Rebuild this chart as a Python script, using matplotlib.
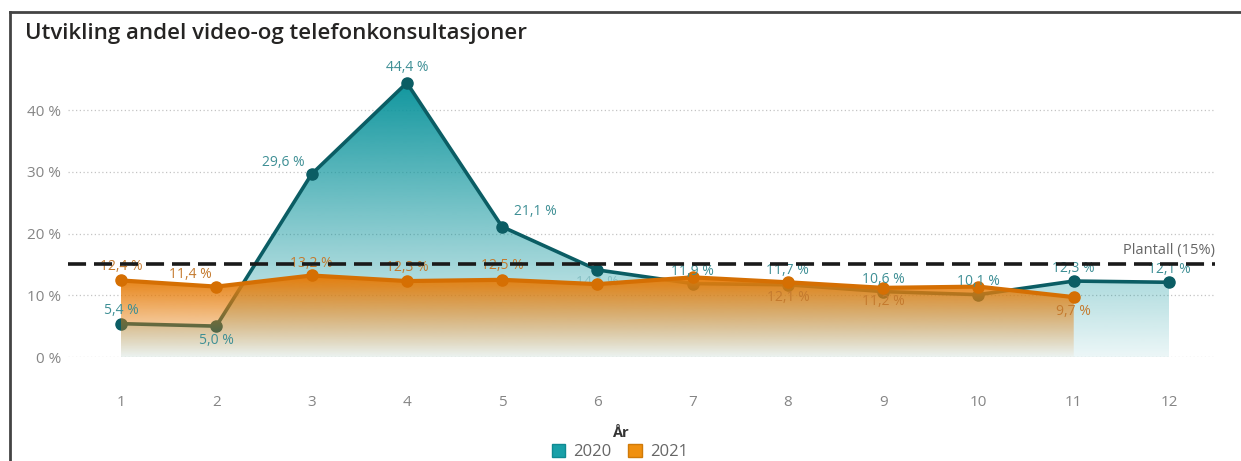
import numpy as np
import matplotlib
matplotlib.use('Agg')
import matplotlib.pyplot as plt
from matplotlib.patches import Polygon, Patch
from matplotlib.lines import Line2D
from matplotlib.colors import to_rgb

plt.rcParams['font.family'] = ['Open Sans', 'DejaVu Sans']

# data
months = [1, 2, 3, 4, 5, 6, 7, 8, 9, 10, 11, 12]
andel_2020 = [5.4, 5.0, 29.6, 44.4, 21.1, 14.1, 11.9, 11.7, 10.6, 10.1, 12.3, 12.1]
months_2021 = [1, 2, 3, 4, 5, 6, 7, 8, 9, 10, 11]
andel_2021 = [12.4, 11.4, 13.2, 12.3, 12.5, 11.8, 12.9, 12.1, 11.2, 11.4, 9.7]
plantall = 15
yticks = [0, 10, 20, 30, 40]

# label offsets in pixels (dx, dy), None = no label shown
off_2020 = [(0, 13), (0, -14), (-28, 12), (0, 15), (33, 15), (0, -13), (0, 12),
            (0, 14), (0, 12), (0, 13), (0, 13), (0, 13)]
off_2021 = [(0, 14), (-26, 12), (0, 12), (0, 14), (0, 14), None, None,
            (0, -15), (0, -14), None, (0, -14)]

TEAL = '#10969e'
TEAL_LINE = '#0b5d64'
TEAL_TXT = '#3e8f95'
ORANGE = '#e67d0a'
ORANGE_LINE = '#d56f03'
ORANGE_TXT = '#c47a2e'

W, H = 1241, 461
fig = plt.figure(figsize=(W / 100, H / 100), dpi=100)

# axes placement in pixels
ax_l, ax_r, ax_t, ax_b = 68, 1215, 60, 357
ax = fig.add_axes([ax_l / W, 1 - ax_b / H, (ax_r - ax_l) / W, (ax_b - ax_t) / H])

px_per_x = (1169 - 121) / 11
x0 = 1 - (121 - ax_l) / px_per_x
x1 = 12 + (ax_r - 1169) / px_per_x
ppy = (357 - 110) / 40.0
ymax = (ax_b - ax_t) / ppy


def grad_area(xs, ys, color, a_top, a_bot, z):
    verts = [(xs[0], 0)] + list(zip(xs, ys)) + [(xs[-1], 0)]
    poly = Polygon(verts, closed=True, facecolor='none', edgecolor='none')
    ax.add_patch(poly)
    top = max(ys)
    n = 256
    rgba = np.zeros((n, 1, 4))
    rgba[:, 0, :3] = to_rgb(color)
    rgba[:, 0, 3] = np.linspace(a_bot, a_top, n)
    im = ax.imshow(rgba, aspect='auto', extent=[xs[0], xs[-1], 0, top],
                   origin='lower', zorder=z, interpolation='bilinear')
    im.set_clip_path(poly)


# 2020
grad_area(months, andel_2020, TEAL, 1.0, 0.08, 1)
ax.plot(months, andel_2020, color=TEAL_LINE, lw=2.6, marker='o', ms=8, zorder=2)
# 2021
grad_area(months_2021, andel_2021, ORANGE, 1.0, 0.03, 3)
ax.plot(months_2021, andel_2021, color=ORANGE_LINE, lw=3, marker='o', ms=8, zorder=4)

for x, y, o in zip(months, andel_2020, off_2020):
    if o is None:
        continue
    z, a = (2.5, 0.35) if x == 6 else (5, 1)
    ax.annotate(f'{y:.1f} %'.replace('.', ','), (x, y), xytext=(o[0] * 0.72, o[1] * 0.72),
                textcoords='offset points', ha='center', va='center',
                fontsize=10, color=TEAL_TXT, zorder=z, alpha=a)
for x, y, o in zip(months_2021, andel_2021, off_2021):
    if o is None:
        continue
    ax.annotate(f'{y:.1f} %'.replace('.', ','), (x, y), xytext=(o[0] * 0.72, o[1] * 0.72),
                textcoords='offset points', ha='center', va='center',
                fontsize=10, color=ORANGE_TXT, zorder=5)

# plan line
ax.axhline(plantall, color='#1a1a1a', lw=2.6, ls=(0, (5, 2.2)), zorder=6)
ax.text(x1, plantall + 1.1, f'Plantall ({plantall}%)', ha='right', va='bottom',
        fontsize=10.5, color='#666666', zorder=6)

ax.set_xlim(x0, x1)
ax.set_ylim(0, ymax)
ax.set_xticks(months)
ax.set_yticks(yticks)
ax.set_yticklabels([f'{v} %' for v in yticks])
ax.tick_params(axis='both', length=0, labelsize=11, labelcolor='#858585')
ax.tick_params(axis='x', pad=27)
ax.tick_params(axis='y', pad=5)
ax.grid(axis='y', color='#c4c4c4', ls=(0, (1, 2)), lw=0.9, zorder=0)
ax.set_axisbelow(True)
for s in ax.spines.values():
    s.set_visible(False)

fig.text(25 / W, 1 - 33 / H, 'Utvikling andel video-og telefonkonsultasjoner',
         fontsize=16, fontweight='semibold', color='#252423', va='center', ha='left')

fig.text(620 / W, 1 - 433 / H, 'År', fontsize=10.5, fontweight='bold',
         color='#333333', ha='center', va='center')
handles = [Patch(facecolor='#18a0a8', edgecolor='#0f8a92'),
           Patch(facecolor='#f0900f', edgecolor='#d07a08')]
fig.legend(handles, ['2020', '2021'], loc='center', ncol=2,
           bbox_to_anchor=(620 / W, 1 - 452 / H), frameon=False, fontsize=12,
           handlelength=0.8, handleheight=0.8, handletextpad=0.5, columnspacing=1.0,
           labelcolor='#666666', borderpad=0.1)

# outer frame (top and left edge)
fig.add_artist(Line2D([10 / W, 1], [1 - 12 / H, 1 - 12 / H], color='#444444', lw=2,
                      transform=fig.transFigure))
fig.add_artist(Line2D([10 / W, 10 / W], [1 - 12 / H, 0], color='#444444', lw=2,
                      transform=fig.transFigure))

fig.savefig('out.png', dpi=100)
